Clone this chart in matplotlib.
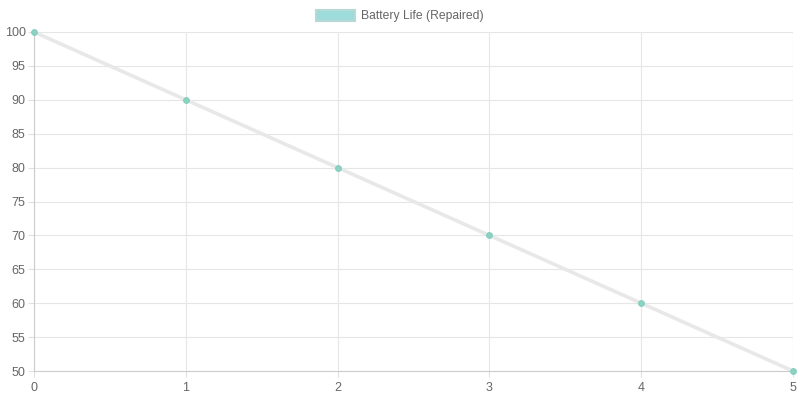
import matplotlib
matplotlib.use("Agg")
import matplotlib.pyplot as plt
from matplotlib.patches import Patch

x_values = [0, 1, 2, 3, 4, 5]
battery_life = [100, 90, 80, 70, 60, 50]
series_label = "Battery Life (Repaired)"
y_ticks = [50, 55, 60, 65, 70, 75, 80, 85, 90, 95, 100]

plt.rcParams['font.family'] = ['Liberation Sans', 'DejaVu Sans']

fig = plt.figure(figsize=(8, 4), dpi=100)
ax = fig.add_axes([34/800, 1 - 371/400, (793 - 34)/800, (371 - 32)/400])

ax.plot(x_values, battery_life, color='#e8e8e8', linewidth=2.6, zorder=2,
        solid_capstyle='round')
ax.scatter(x_values, battery_life, s=18, color='#8ad2c2', edgecolors='#80cdbb',
           linewidths=0.6, zorder=3, clip_on=False)

ax.set_xlim(0, 5)
ax.set_ylim(50, 100)
ax.set_xticks(x_values)
ax.set_yticks(y_ticks)
ax.grid(True, color='#e6e6e6', linewidth=0.8, zorder=0)
ax.set_axisbelow(True)
for side in ['top', 'right']:
    ax.spines[side].set_visible(False)
for side in ['left', 'bottom']:
    ax.spines[side].set_color('#cccccc')
    ax.spines[side].set_linewidth(0.8)
ax.tick_params(axis='both', colors='#e0e0e0', labelcolor='#666666',
               labelsize=9, length=4, width=0.8)
ax.tick_params(axis='x', pad=4)
ax.tick_params(axis='y', pad=2)

handle = Patch(facecolor='#9edcdc', edgecolor='#b6d9d6', linewidth=1.5)
fig.legend([handle], [series_label], loc='center', bbox_to_anchor=(0.5, 1 - 16/400),
           frameon=False, fontsize=8.7, labelcolor='#666666',
           handlelength=3.2, handleheight=1.0, handletextpad=0.5)

fig.savefig("out.png", dpi=100, facecolor='white')
